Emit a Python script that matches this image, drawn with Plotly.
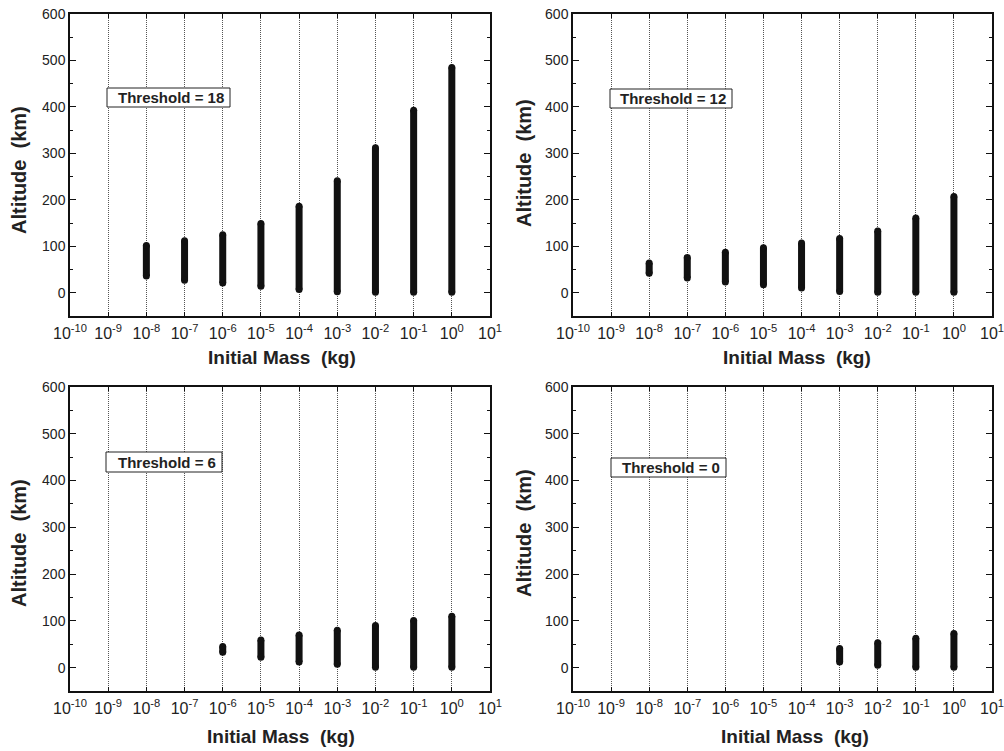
import plotly.graph_objects as go

W, H = 1004, 751

# ---- data ----
mass_exp = [-8, -7, -6, -5, -4, -3, -2, -1, 0]
thr18_low = [36, 27, 21, 14, 7, 2, 1, 1, 1]
thr18_high = [102, 112, 125, 149, 186, 241, 312, 393, 485]

thr12_low = [42, 32, 23, 17, 10, 3, 1, 1, 1]
thr12_high = [64, 76, 87, 97, 107, 117, 133, 161, 207]

mass_exp_6 = [-6, -5, -4, -3, -2, -1, 0]
thr6_low = [33, 22, 12, 7, 1, 1, 1]
thr6_high = [45, 59, 70, 80, 90, 101, 110]

mass_exp_0 = [-3, -2, -1, 0]
thr0_low = [12, 5, 1, 1]
thr0_high = [41, 53, 63, 73]

tick_exps = list(range(-10, 2))
tick_labels = ["10<sup>%d</sup>" % e for e in tick_exps]
thresholds = ["Threshold = 18", "Threshold = 12", "Threshold = 6", "Threshold = 0"]

panels = [
    (mass_exp, thr18_low, thr18_high),
    (mass_exp, thr12_low, thr12_high),
    (mass_exp_6, thr6_low, thr6_high),
    (mass_exp_0, thr0_low, thr0_high),
]

# ---- layout geometry (pixels) ----
boxes = [  # x0, x1, ytop, ybottom
    (70, 490, 14, 316),
    (573, 992, 14, 316),
    (70, 490, 387, 691),
    (573, 992, 387, 691),
]
label_boxes = [  # x0, x1, ytop, ybottom  (pixels)
    (107, 230, 88, 107),
    (610, 732, 89, 108),
    (106, 222, 452, 472),
    (611, 726, 458, 477),
]
xtitle_pos = [(282, 358), (797, 358), (281, 736), (795, 736)]
ytitle_pos = [(19, 170), (524, 163), (19, 543), (524, 533)]

TXT = "#222222"
FONT = "Liberation Sans, Arial, Helvetica, sans-serif"

fig = go.Figure()
layout = dict(
    template="none",
    width=W, height=H, margin=dict(l=0, r=0, t=0, b=0, pad=0, autoexpand=False),
    paper_bgcolor="white", plot_bgcolor="white",
    showlegend=False, font=dict(family=FONT, color=TXT, size=14),
)
shapes = []
annotations = []

for i, ((xs, lows, highs), (x0, x1, yt, yb)) in enumerate(zip(panels, boxes)):
    n = "" if i == 0 else str(i + 1)
    xa, ya = "x" + n, "y" + n
    px, py = [], []
    for e, lo, hi in zip(xs, lows, highs):
        px += [10.0 ** e, 10.0 ** e, None]
        py += [lo, hi, None]
    fig.add_trace(go.Scatter(
        x=px, y=py, xaxis=xa, yaxis=ya, mode="lines+markers",
        line=dict(color="#111111", width=7),
        marker=dict(color="#111111", size=7, line=dict(width=0)),
        hoverinfo="skip",
    ))
    layout["xaxis" + n] = dict(
        type="log", range=[-10, 1], domain=[x0 / W, x1 / W], anchor=ya,
        automargin=False, ticklabeloverflow="allow",
        tickvals=[10.0 ** e for e in tick_exps], ticktext=tick_labels,
        showgrid=True, griddash="1px,1px", gridcolor="#555555", gridwidth=1,
        showline=True, linecolor="#111111", linewidth=1.5, mirror="ticks",
        ticks="inside", ticklen=4, tickwidth=1, tickcolor="#111111",
        zeroline=False, tickfont=dict(size=16, color=TXT),
        ticklabelstandoff=2,
    )
    layout["yaxis" + n] = dict(
        range=[-50, 600], domain=[1 - yb / H, 1 - yt / H], anchor=xa,
        automargin=False,
        tick0=0, dtick=100, ticks="inside", ticklen=6, tickwidth=1,
        tickcolor="#111111",
        minor=dict(dtick=50, ticks="inside", ticklen=3, tickcolor="#111111", showgrid=False),
        showgrid=False, zeroline=False,
        showline=True, linecolor="#111111", linewidth=1.5, mirror="ticks",
        tickfont=dict(size=14, color=TXT),
    )
    lx0, lx1, lyt, lyb = label_boxes[i]
    shapes.append(dict(
        type="rect", xref="paper", yref="paper",
        x0=lx0 / W, x1=lx1 / W, y0=1 - lyb / H, y1=1 - lyt / H,
        line=dict(color="#222222", width=1), fillcolor="white", layer="above",
    ))
    annotations.append(dict(
        text="<b>%s</b>" % thresholds[i], xref="paper", yref="paper",
        x=(lx1 - 4) / W, y=1 - (lyt + lyb) / 2 / H, xanchor="right", yanchor="middle",
        showarrow=False, font=dict(size=15, color=TXT),
    ))
    tx, ty = xtitle_pos[i]
    annotations.append(dict(
        text="<b>Initial Mass \u00a0(kg)</b>", xref="paper", yref="paper",
        x=tx / W, y=1 - ty / H, xanchor="center", yanchor="middle",
        showarrow=False, font=dict(size=19, color=TXT),
    ))
    yx, yy = ytitle_pos[i]
    annotations.append(dict(
        text="<b>Altitude \u00a0(km)</b>", xref="paper", yref="paper",
        x=yx / W, y=1 - yy / H, xanchor="center", yanchor="middle",
        textangle=-90, showarrow=False, font=dict(size=20, color=TXT),
    ))

layout["shapes"] = shapes
layout["annotations"] = annotations
fig.update_layout(**layout)
fig.write_html(
    "out.html",
    config={"displayModeBar": False},
    post_script="document.body.style.margin='0';document.body.style.overflow='hidden';",
)
